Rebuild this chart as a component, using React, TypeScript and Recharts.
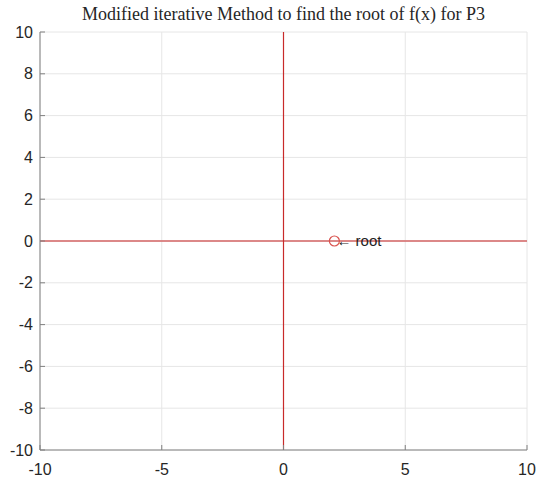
import React from 'react';
import { ComposedChart, Line, Scatter, XAxis, YAxis, CartesianGrid } from 'recharts';

const xTicks = [-10, -5, 0, 5, 10];
const yTicks = [-10, -8, -6, -4, -2, 0, 2, 4, 6, 8, 10];
// y = 0 line and x = 0 line
const horizontalLine = [{ x: -10, y: 0 }, { x: 10, y: 0 }];
const verticalLine = [{ x: 0, y: -10 }, { x: 0, y: 10 }];
const rootPoint = [{ x: 2.09, y: 0 }];

const H_RED = '#d46565';
const V_RED = '#c82a2a';
const FONT = '"Liberation Sans", Arial, sans-serif';
const tickStyle = { fontFamily: FONT, fontSize: 16, fill: '#262626' };

const RootMarker = (props: any) => {
    const { cx, cy } = props;
    return (
        <g>
            <circle cx={cx} cy={cy} r={5} fill="none" stroke="#d9534f" strokeWidth={1.2} />
            <text x={cx + 2} y={cy + 5} fontFamily={FONT} fontSize={15} fill="#1f1f1f">← root</text>
        </g>
    );
};

export default function App() {
    return (
        <div style={{ position: 'absolute', left: 0, top: 0, width: 544, height: 482, background: '#fff' }}>
            <div
                style={{
                    position: 'absolute', left: 40, top: 4, width: 487, textAlign: 'center',
                    fontFamily: '"Liberation Serif", "Times New Roman", serif', fontSize: 18, color: '#262626'
                }}
            >
                Modified iterative Method to find the root of f(x) for P3
            </div>
            <ComposedChart width={544} height={482} margin={{ top: 32, right: 17, left: 0, bottom: 0 }}>
                <CartesianGrid stroke="#e6e6e6" />
                <XAxis
                    type="number"
                    dataKey="x"
                    domain={[-10, 10]}
                    ticks={xTicks}
                    height={32}
                    tickSize={-5}
                    tickMargin={19}
                    stroke="#808080"
                    tick={tickStyle}
                    allowDataOverflow
                />
                <YAxis
                    type="number"
                    dataKey="y"
                    domain={[-10, 10]}
                    ticks={yTicks}
                    width={40}
                    tickSize={-5}
                    tickMargin={12}
                    stroke="#808080"
                    tick={tickStyle}
                    allowDataOverflow
                />
                <Line data={horizontalLine} dataKey="y" type="linear" stroke={H_RED} strokeWidth={1.5} dot={false} activeDot={false} isAnimationActive={false} />
                <Line data={verticalLine} dataKey="y" type="linear" stroke={V_RED} strokeWidth={1.2} dot={false} activeDot={false} isAnimationActive={false} />
                <Scatter data={rootPoint} shape={RootMarker} isAnimationActive={false} />
            </ComposedChart>
        </div>
    );
}
